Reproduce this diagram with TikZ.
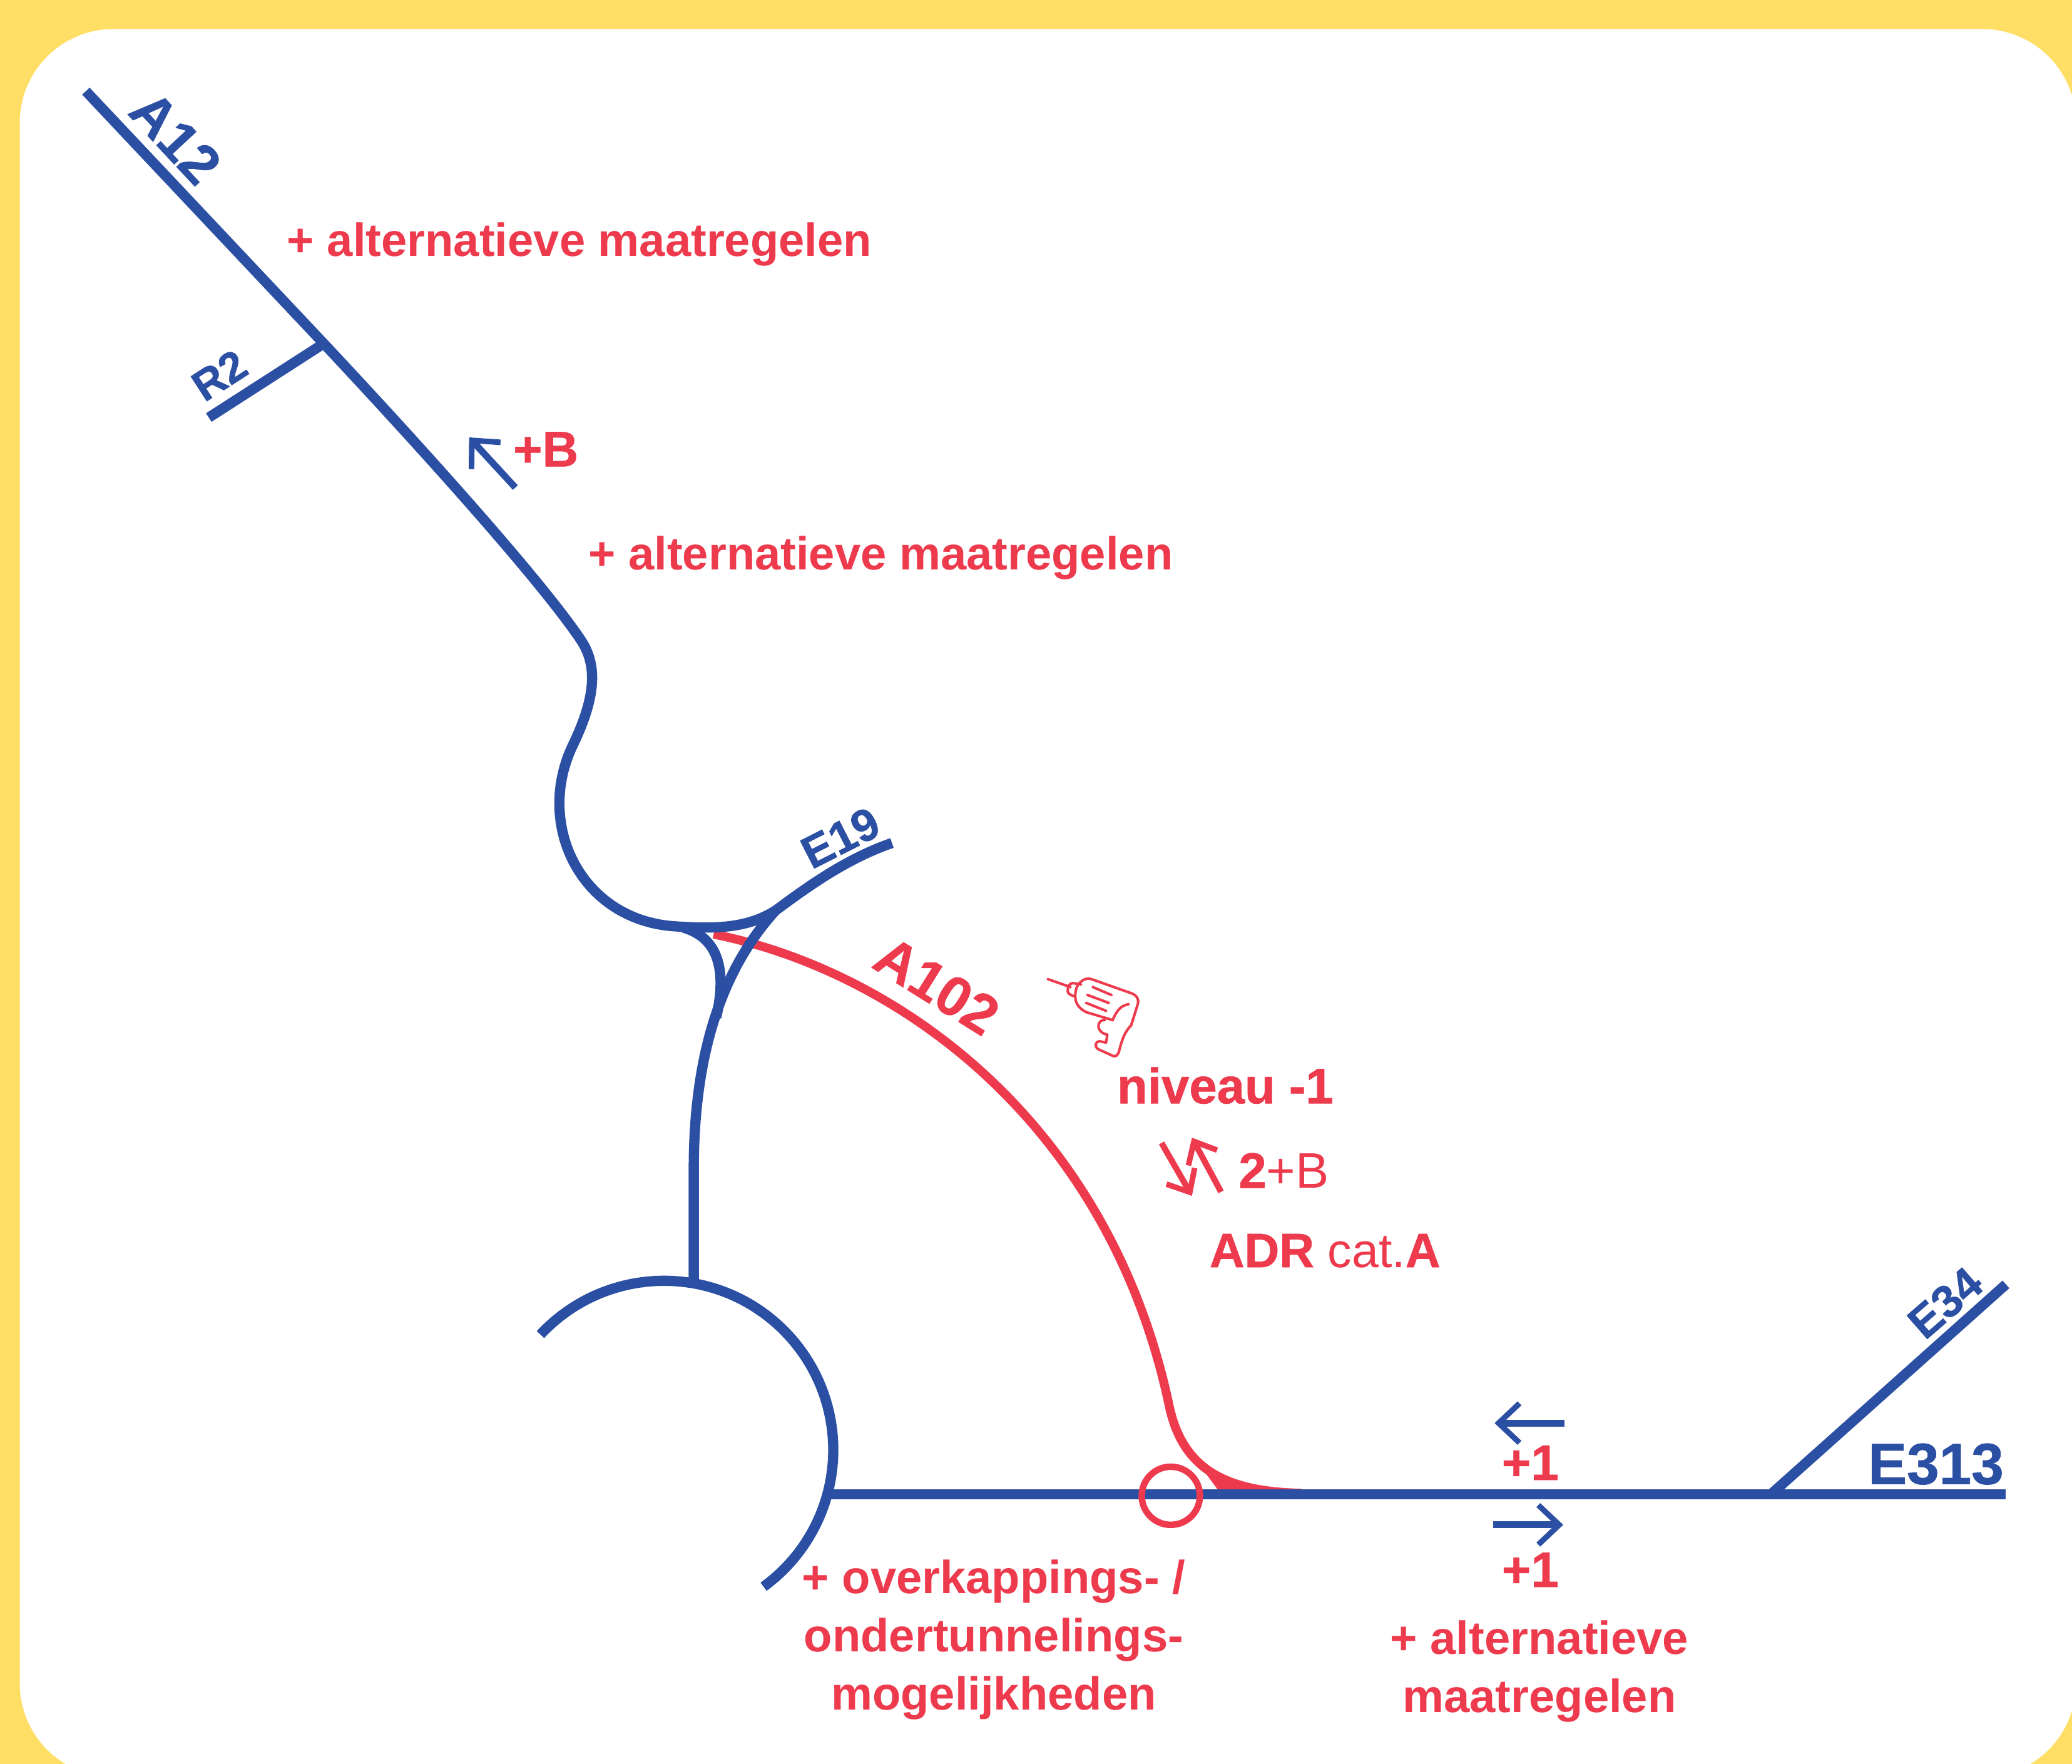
\documentclass[tikz,border=0pt]{standalone}
\usepackage{fontspec}
\setmainfont{Liberation Sans}
\newfontfamily\heavyfont{Liberation Sans Bold}[FakeBold=0.8]
\usetikzlibrary{arrows.meta}
\definecolor{roadblue}{HTML}{2B4FA3}
\definecolor{roadred}{HTML}{EE3A4D}
\definecolor{framey}{HTML}{FFDE66}
\tikzset{
  road/.style={roadblue,line width=4.4pt},
  newroad/.style={roadred,line width=3.8pt},
  lane/.style={line width=2.9pt,-{Straight Barb[length=9pt,width=17pt,line width=2.4pt]}},
  redlane/.style={roadred,line width=2.6pt,-{Straight Barb[length=8pt,width=14pt,line width=2.4pt]}},
  note/.style={roadred,inner sep=0pt,font=\fontsize{20}{25}\selectfont\bfseries,align=center},
  strong/.style={roadred,inner sep=0pt,font=\fontsize{21.5}{25}\selectfont\heavyfont},
  tag/.style={roadblue,inner sep=0pt,font=\fontsize{19.5}{22}\selectfont\heavyfont},
  drill/.style={roadred,line width=1.1pt,line join=round,line cap=round}
}
\begin{document}
\begin{tikzpicture}[x=0.02cm,y=-0.02cm]
  \useasboundingbox (0,0) rectangle (1568,1335);
  \fill[framey] (0,0) rectangle (1568,1335);
  \fill[white,rounded corners=1.42cm] (15,22) rectangle (1571,1345);
  % new link
  \draw[newroad] (540,707) .. controls (680,735) and (840,850) .. (885,1065)
    .. controls (895,1110) and (925,1129) .. (985,1130);
  \fill[roadred] (905,1105) .. controls (920,1122) and (945,1127) .. (985,1130) -- (925,1132) -- cycle;
  % roads
  \draw[road] (65,69) -- (245,260) coordinate (r2top)
    .. controls (320,340) and (410,440) .. (440,485)
    .. controls (453,505) and (450,530) .. (433,565)
    .. controls (405,625) and (440,696) .. (510,701)
    .. controls (540,703) and (565,703) .. (587,689)
    .. controls (610,672) and (640,650) .. (675,638);
  \draw[road] (587,689) .. controls (545,735) and (525,800) .. (525,885) -- (525,970);
  \draw[road] (517,702) .. controls (538,708) and (552,726) .. (542,770);
  \draw[road] (r2top) -- (158,316);
  \draw[road] (409,1010) arc[start angle=137,end angle=-54,radius=2.56cm];
  \draw[road] (625,1131) -- (1518,1131);
  \draw[road] (1340,1131) -- (1518,972);
  \draw[roadred,line width=2.8pt] (886,1132) circle (0.44cm);
  % lanes
  \draw[lane,roadblue] (390,369) -- (355,331);
  \draw[lane,roadblue] (1184,1077) -- (1131,1077);
  \draw[lane,roadblue] (1130,1154) -- (1183,1154);
  \draw[redlane] (879,865) -- (902,905);
  \draw[redlane] (924,902) -- (902,861);
  % drill
  \draw[drill] (793,741) -- (810,747);
  \draw[drill] (812,744) .. controls (809,744) and (808,747) .. (808,750) .. controls (808,752) and (810,753) .. (813,754);
  \draw[drill] (812,744) -- (818,745);
  \draw[drill] (818,743) .. controls (820,741) and (823,740) .. (826,741) -- (857,752)
    .. controls (861,754) and (862,757) .. (861,760) -- (856,776)
    .. controls (851,781) and (849,787) .. (847,795) .. controls (846,799) and (844,800) .. (842,799)
    -- (831,794) .. controls (828,792) and (829,788) .. (832,788) -- (837,789) -- (838,783)
    .. controls (832,782) and (830,777) .. (832,774) .. controls (833,772) and (835,772) .. (836,772);
  \draw[drill] (842,772) -- (822,766) .. controls (818,764) and (815,761) .. (814,757)
    .. controls (813,750) and (815,745) .. (818,743);
  \draw[drill] (842,772) .. controls (845,765) and (848,761) .. (854,760);
  \draw[drill] (827,747) -- (841,753);
  \draw[drill] (823,753) -- (839,759);
  \draw[drill] (822,759) -- (837,765);
  % texts
  \node[note,anchor=base west] (alta) at (217,194) {+ alternatieve maatregelen};
  \node[note,anchor=base west] (altb) at (445,431) {+ alternatieve maatregelen};
  \node[strong,anchor=base west] (plusb) at (388,353) {+B};
  \node[strong,anchor=base west] (niveau) at (845,835) {niveau -1};
  \node[strong,anchor=base west] (lanes) at (937,899) {2{\normalfont +B}};
  \node[strong,anchor=base west,font=\fontsize{20.8}{25}\selectfont\heavyfont] (adr) at (915,959) {ADR {\normalfont cat.}A};
  \node[strong,anchor=base] (plusa) at (1158,1120) {+1};
  \node[strong,anchor=base] (plusc) at (1158,1201) {+1};
  \node[note] (cover) at (752,1241) {+ overkappings- /\\ondertunnelings-\\mogelijkheden};
  \node[note] (altc) at (1165,1265) {+ alternatieve\\maatregelen};
  \node[strong,rotate=-32,font=\fontsize{24}{26}\selectfont\heavyfont] (a102) at (709,746) {A102};
  \node[tag,rotate=-47,font=\fontsize{24}{26}\selectfont\heavyfont] (a12) at (133,104) {A12};
  \node[tag,rotate=33,font=\fontsize{18.5}{20}\selectfont\heavyfont] (r2) at (166,284) {R2};
  \node[tag,rotate=27] (e19) at (636,634) {E19};
  \node[tag,rotate=41] (e34) at (1472,986) {E34};
  \node[tag,font=\fontsize{25}{27}\selectfont\heavyfont] (e313) at (1465,1108) {E313};
\end{tikzpicture}
\end{document}
